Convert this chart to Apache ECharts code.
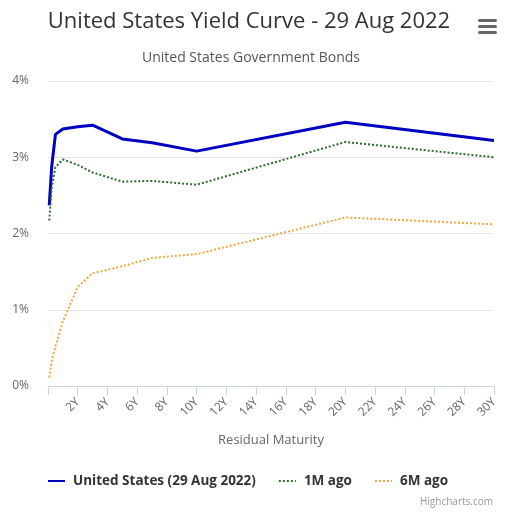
<!DOCTYPE html>
<html><head><meta charset="utf-8">
<script src="https://cdn.jsdelivr.net/npm/echarts@6/dist/echarts.min.js"></script>
<style>html,body{margin:0;padding:0;background:#fff}#c{width:526px;height:524px}</style>
</head><body><div id="c"></div>
<script>
const maturities = [0.083, 0.25, 0.5, 1, 2, 3, 5, 7, 10, 20, 30];
const current = [2.37, 2.88, 3.30, 3.37, 3.40, 3.42, 3.24, 3.19, 3.08, 3.46, 3.22];
const oneMonthAgo = [2.17, 2.60, 2.87, 2.97, 2.90, 2.80, 2.68, 2.69, 2.64, 3.20, 3.00];
const sixMonthsAgo = [0.11, 0.33, 0.52, 0.85, 1.30, 1.48, 1.57, 1.68, 1.73, 2.21, 2.12];
const seriesNames = ['United States (29 Aug 2022)', '1M ago', '6M ago'];
const xTickLabel = v => v === 0 ? '' : v + 'Y';
const yTickLabel = v => v + '%';

const pairs = arr => maturities.map((m, i) => [m, arr[i]]);
const font = '"Open Sans", "DejaVu Sans", sans-serif';
const chart = echarts.init(document.getElementById('c'));
chart.setOption({
  animation: false,
  textStyle: { fontFamily: font },
  title: [
    { text: 'United States Yield Curve - 29 Aug 2022', left: 244, top: 6, textAlign: 'center',
      textStyle: { fontSize: 22, fontWeight: 'normal', color: '#333', fontFamily: font } },
    { text: 'United States Government Bonds', left: 246, top: 46, textAlign: 'center',
      textStyle: { fontSize: 14, fontWeight: 'normal', color: '#555', fontFamily: font } },
    { text: 'Highcharts.com', right: 28, top: 492,
      textStyle: { fontSize: 10, fontWeight: 'normal', color: '#999', fontFamily: font } }
  ],
  graphic: [
    { type: 'rect', shape: { x: 478, y: 19, width: 19, height: 3, r: 1.5 }, style: { fill: '#666' } },
    { type: 'rect', shape: { x: 478, y: 25, width: 19, height: 3, r: 1.5 }, style: { fill: '#666' } },
    { type: 'rect', shape: { x: 478, y: 31, width: 19, height: 3, r: 1.5 }, style: { fill: '#666' } }
  ],
  grid: { left: 48, right: 32, top: 81, bottom: 138, containLabel: false },
  legend: {
    data: seriesNames, top: 469, left: 42, itemGap: 22, itemWidth: 17, itemHeight: 4,
    itemStyle: { opacity: 0 },
    textStyle: { fontSize: 13.5, fontWeight: 'bold', color: '#333', fontFamily: font, padding: [0, 0, 0, 3] }
  },
  xAxis: {
    type: 'value', min: 0, max: 30, interval: 2,
    name: 'Residual Maturity', nameLocation: 'middle', nameGap: 48,
    nameTextStyle: { fontSize: 13, color: '#666', fontFamily: font },
    axisLine: { show: true, lineStyle: { color: '#ccd6eb' } },
    axisTick: { show: true, length: 9, lineStyle: { color: '#ccd6eb' } },
    axisLabel: { formatter: xTickLabel, rotate: 45, fontSize: 12, color: '#666', margin: 14 },
    splitLine: { show: false }
  },
  yAxis: {
    type: 'value', min: 0, max: 4, interval: 1,
    axisLabel: { formatter: yTickLabel, fontSize: 12, color: '#666', margin: 19 },
    axisLine: { show: false }, axisTick: { show: false },
    splitLine: { lineStyle: { color: '#e6e6e6' } }
  },
  series: [
    { name: seriesNames[0], type: 'line', data: pairs(current), symbol: 'none', showSymbol: false,
      lineStyle: { color: '#0000c0', width: 3 }, itemStyle: { color: '#0000c0' } },
    { name: seriesNames[1], type: 'line', data: pairs(oneMonthAgo), symbol: 'none', showSymbol: false,
      lineStyle: { color: '#2e6b2e', width: 2, type: 'dotted' }, itemStyle: { color: '#2e6b2e' } },
    { name: seriesNames[2], type: 'line', data: pairs(sixMonthsAgo), symbol: 'none', showSymbol: false,
      lineStyle: { color: '#f0a83c', width: 2, type: 'dotted' }, itemStyle: { color: '#f0a83c' } }
  ]
});
</script></body></html>
